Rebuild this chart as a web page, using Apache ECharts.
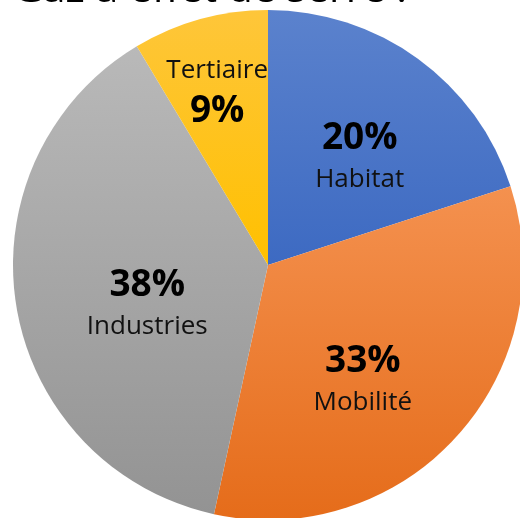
<!DOCTYPE html>
<html>
<head>
<meta charset="utf-8">
<script src="https://cdn.jsdelivr.net/npm/echarts@6/dist/echarts.min.js"></script>
<style>html,body{margin:0;padding:0;background:#fff;}#c{width:520px;height:518px;}</style>
</head>
<body>
<div id="c"></div>
<script>
const titleText = 'Gaz à effet de serre :';
const categories = ['Habitat', 'Mobilité', 'Industries', 'Tertiaire'];
const values = [20.0, 33.4, 38.0, 8.6];

const gradients = [
  ['#5b82cd', '#3d6ac2'],
  ['#f4914f', '#e56c1a'],
  ['#b9b9b9', '#939393'],
  ['#fec63a', '#ffc000']
];
const labelOffsets = [[15, -4], [-2, 26], [8, 16], [-16, -45]];
const nameFirst = [false, false, false, true];

const chart = echarts.init(document.getElementById('c'), null, {renderer: 'canvas'});
const data = categories.map((name, i) => ({
  name: name,
  value: values[i],
  itemStyle: {
    color: {type: 'linear', x: 0, y: 0, x2: 0, y2: 1,
      colorStops: [{offset: 0, color: gradients[i][0]}, {offset: 1, color: gradients[i][1]}]}
  },
  label: {
    offset: labelOffsets[i],
    formatter: nameFirst[i]
      ? (p) => '{n|' + p.name + '}\n{p|' + Math.round(p.value) + '%}'
      : (p) => '{p|' + Math.round(p.value) + '%}\n{n|' + p.name + '}'
  }
}));

chart.setOption({
  animation: false,
  graphic: [{
    type: 'text', left: 13, top: -30,
    style: {text: titleText, fontFamily: 'Open Sans', fontSize: 41, fill: '#000'}
  }],
  series: [{
    type: 'pie',
    center: [268, 265],
    radius: [0, 255],
    startAngle: 90,
    clockwise: true,
    avoidLabelOverlap: false,
    itemStyle: {borderWidth: 0},
    emphasis: {disabled: true},
    label: {
      show: true,
      position: 'inside',
      color: '#000',
      align: 'center',
      rich: {
        p: {fontFamily: 'Open Sans', fontWeight: 'bold', fontSize: 37, lineHeight: 48, color: '#000', align: 'center'},
        n: {fontFamily: 'Open Sans', fontSize: 26, lineHeight: 34, color: '#111', align: 'center'}
      }
    },
    labelLine: {show: false},
    data: data
  }]
});
</script>
</body>
</html>
